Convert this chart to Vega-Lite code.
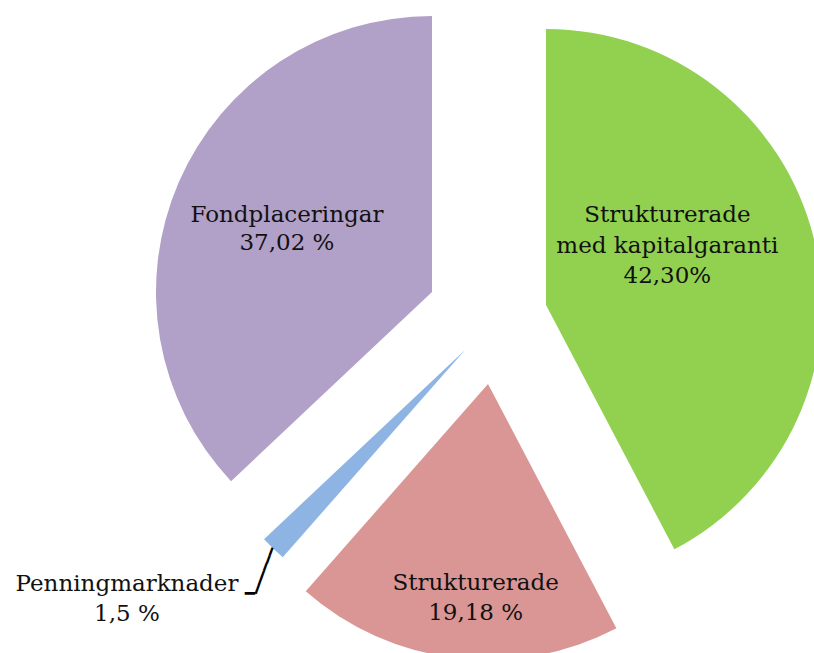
{
  "$schema": "https://vega.github.io/schema/vega-lite/v6.json",
  "width": 980,
  "height": 640,
  "autosize": "none",
  "padding": {"left": 0, "top": 0, "right": 0, "bottom": 20},
  "background": "white",
  "view": {"stroke": null},
  "data": {
    "values": [
      {"name": "Strukturerade med kapitalgaranti", "value": 42.30, "order": 1, "label": "Strukturerade\nmed kapitalgaranti\n42,30%"},
      {"name": "Strukturerade", "value": 19.18, "order": 2, "label": "Strukturerade\n19,18 %"},
      {"name": "Penningmarknader", "value": 1.5, "order": 3, "label": "Penningmarknader\n1,5 %"},
      {"name": "Fondplaceringar", "value": 37.02, "order": 4, "label": "Fondplaceringar\n37,02 %"}
    ]
  },
  "encoding": {
    "theta": {"field": "value", "type": "quantitative", "stack": true},
    "order": {"field": "order", "type": "quantitative"},
    "color": {
      "field": "name",
      "type": "nominal",
      "legend": null,
      "scale": {
        "domain": ["Strukturerade med kapitalgaranti", "Strukturerade", "Penningmarknader", "Fondplaceringar"],
        "range": ["#92D050", "#DA9694", "#8DB4E2", "#B1A0C7"]
      }
    }
  },
  "layer": [
    {
      "mark": {"type": "arc", "radius": 276, "xOffset": 56, "yOffset": -15},
      "encoding": {"opacity": {"condition": {"test": "datum.order === 1", "value": 1}, "value": 0}}
    },
    {
      "mark": {"type": "arc", "radius": 276, "xOffset": -2, "yOffset": 64},
      "encoding": {"opacity": {"condition": {"test": "datum.order === 2", "value": 1}, "value": 0}}
    },
    {
      "mark": {"type": "arc", "radius": 276, "xOffset": -25, "yOffset": 30},
      "encoding": {"opacity": {"condition": {"test": "datum.order === 3", "value": 1}, "value": 0}}
    },
    {
      "mark": {"type": "arc", "radius": 276, "xOffset": -58, "yOffset": -28},
      "encoding": {"opacity": {"condition": {"test": "datum.order === 4", "value": 1}, "value": 0}}
    },
    {
      "mark": {"type": "text", "radius": 125, "xOffset": 56, "yOffset": -15, "dy": -60, "font": "DejaVu Serif", "fontSize": 23, "lineHeight": 30.5, "lineBreak": "\n", "align": "center", "baseline": "middle"},
      "encoding": {"text": {"condition": {"test": "datum.order === 1", "field": "label"}, "value": ""}, "color": {"value": "#111111"}}
    },
    {
      "mark": {"type": "text", "radius": 214, "xOffset": -2, "yOffset": 64, "dx": 13, "dy": -13, "font": "DejaVu Serif", "fontSize": 23, "lineHeight": 30, "lineBreak": "\n", "align": "center", "baseline": "middle"},
      "encoding": {"text": {"condition": {"test": "datum.order === 2", "field": "label"}, "value": ""}, "color": {"value": "#111111"}}
    },
    {
      "mark": {"type": "text", "radius": 300, "xOffset": -25, "yOffset": 30, "dx": -129.5, "dy": 18.5, "font": "DejaVu Serif", "fontSize": 23, "lineHeight": 30, "lineBreak": "\n", "align": "center", "baseline": "middle"},
      "encoding": {"text": {"condition": {"test": "datum.order === 3", "field": "label"}, "value": ""}, "color": {"value": "#111111"}}
    },
    {
      "mark": {"type": "text", "radius": 158, "xOffset": -58, "yOffset": -28, "dy": -14, "font": "DejaVu Serif", "fontSize": 23, "lineHeight": 28, "lineBreak": "\n", "align": "center", "baseline": "middle"},
      "encoding": {"text": {"condition": {"test": "datum.order === 4", "field": "label"}, "value": ""}, "color": {"value": "#111111"}}
    },
    {
      "mark": {"type": "text", "radius": 298, "xOffset": -25, "yOffset": 30, "angle": -69.7, "dx": -3.9, "dy": 8.6, "font": "DejaVu Sans Mono", "fontSize": 13.5, "align": "center", "baseline": "middle"},
      "encoding": {"text": {"condition": {"test": "datum.order === 3", "value": "━━━━━━"}, "value": ""}, "color": {"value": "#000000"}}
    },
    {
      "mark": {"type": "text", "radius": 300, "xOffset": -25, "yOffset": 30, "dx": -6.5, "dy": 28.5, "font": "DejaVu Sans Mono", "fontSize": 17, "align": "center", "baseline": "middle"},
      "encoding": {"text": {"condition": {"test": "datum.order === 3", "value": "━"}, "value": ""}, "color": {"value": "#000000"}}
    }
  ]
}
